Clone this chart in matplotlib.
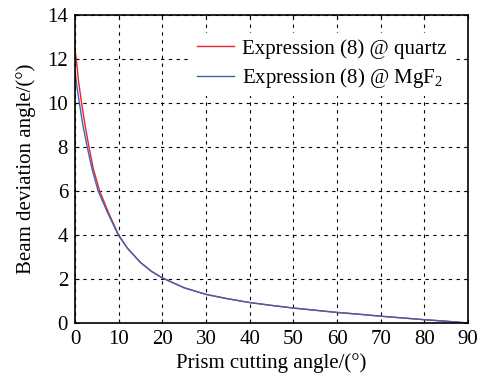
import numpy as np
import matplotlib
matplotlib.use('Agg')
import matplotlib.pyplot as plt

plt.rcParams['font.family'] = 'Liberation Serif'
plt.rcParams['mathtext.fontset'] = 'custom'
plt.rcParams['mathtext.rm'] = 'Liberation Serif'

# datos
x_quartz = [0, 0.3, 0.8, 1.5, 2.3, 3.2, 4.2, 5.65, 7.7, 10, 12, 15, 17.5, 20, 25, 30, 35,
            40, 45, 50, 55, 60, 65, 70, 75, 80, 85, 90]
y_quartz = [12.4, 12.0, 11.0, 10.0, 9.0, 8.0, 7.0, 6.0, 5.0, 4.0, 3.4, 2.75, 2.35, 2.05,
            1.6, 1.3, 1.1, 0.93, 0.8, 0.68, 0.58, 0.48, 0.4, 0.31, 0.23, 0.15, 0.08, 0.0]
x_mgf2 = [0, 0.4, 1.0, 1.8, 2.8, 3.9, 5.3, 7.5, 9.9, 12, 15, 17.5, 20, 25, 30, 35,
          40, 45, 50, 55, 60, 65, 70, 75, 80, 85, 90]
y_mgf2 = [11.5, 10.8, 10.0, 9.0, 8.0, 7.0, 6.0, 5.0, 4.0, 3.4, 2.75, 2.35, 2.05,
          1.6, 1.3, 1.1, 0.93, 0.8, 0.68, 0.58, 0.48, 0.4, 0.31, 0.23, 0.15, 0.08, 0.0]

fig = plt.figure(figsize=(4.83, 3.82), dpi=100)
ax = fig.add_axes([75/483, 1-323/382, (468-75)/483, (323-15)/382])

ax.plot(x_quartz, y_quartz, color='#e8242b', lw=1.0, label='Expression (8) @ quartz')
ax.plot(x_mgf2, y_mgf2, color='#3d64b4', lw=1.0, label='Expression (8) @ MgF$_2$')

ax.set_xlim(0, 90)
ax.set_ylim(0, 14)
ax.set_xticks(np.arange(0, 91, 10))
ax.set_yticks(np.arange(0, 15, 2))
ax.grid(True, color='black', linestyle=(0, (3, 4)), linewidth=0.8)
ax.tick_params(direction='in', top=True, right=True, labelsize=15, length=3, pad=5)
for s in ax.spines.values():
    s.set_linewidth(1.2)

ax.set_xlabel('Prism cutting angle/(°)', fontsize=15, labelpad=3)
ax.set_ylabel('Beam deviation angle/(°)', fontsize=15, labelpad=8)

leg = ax.legend(loc='center left', bbox_to_anchor=(0.295, 0.84), fontsize=15,
                frameon=True, fancybox=False, handlelength=1.78, handletextpad=0.38,
                borderaxespad=0, borderpad=0.3, labelspacing=0.35)
leg.get_frame().set_edgecolor('none')
leg.get_frame().set_facecolor('white')
leg.get_frame().set_alpha(1)

fig.savefig('out.png', dpi=100)
